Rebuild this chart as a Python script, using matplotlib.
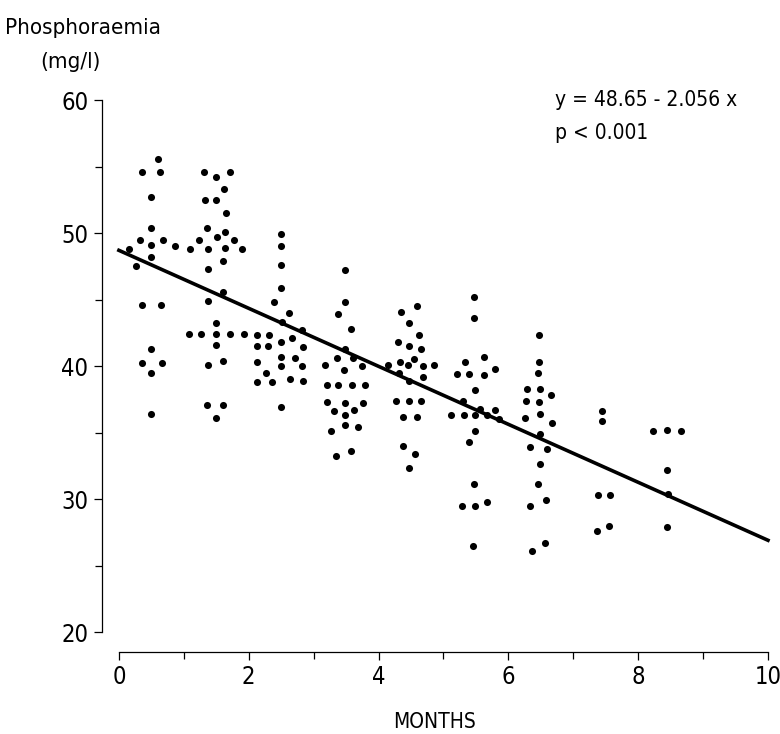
import numpy as np
import matplotlib
matplotlib.use("Agg")
import matplotlib.pyplot as plt
from matplotlib.ticker import MultipleLocator

# values, grouped by month of sampling
m0_x = [0.16, 0.26, 0.32, 0.35, 0.35, 0.36, 0.49, 0.49, 0.50, 0.50, 0.50, 0.50, 0.49,
        0.60, 0.63, 0.65, 0.67, 0.68, 0.87]
m0_y = [48.8, 47.5, 49.5, 44.6, 40.2, 54.6, 52.7, 50.4, 49.1, 48.2, 41.3, 39.5, 36.4,
        55.6, 54.6, 44.6, 40.2, 49.5, 49.0]

m1_x = [1.08, 1.10, 1.23, 1.26, 1.31, 1.32, 1.35, 1.35, 1.37, 1.37, 1.38, 1.38, 1.49,
        1.50, 1.51, 1.49, 1.49, 1.49, 1.49, 1.60, 1.60, 1.61, 1.61, 1.62, 1.63, 1.64,
        1.65, 1.71, 1.71, 1.78, 1.89, 1.93]
m1_y = [42.4, 48.8, 49.5, 42.4, 54.6, 52.5, 50.4, 37.1, 47.3, 40.1, 48.8, 44.9, 54.2,
        52.5, 49.7, 43.2, 42.4, 41.6, 36.1, 47.9, 40.4, 45.6, 37.1, 53.3, 50.1, 48.9,
        51.5, 54.6, 42.4, 49.5, 48.8, 42.4]

m2_x = [2.12, 2.13, 2.13, 2.13, 2.27, 2.30, 2.32, 2.36, 2.39, 2.49, 2.49, 2.49, 2.50,
        2.52, 2.50, 2.50, 2.50, 2.50, 2.62, 2.63, 2.66, 2.72, 2.82, 2.83, 2.82, 2.83]
m2_y = [41.5, 42.3, 40.3, 38.8, 39.5, 41.5, 42.3, 38.8, 44.8, 49.9, 49.0, 47.6, 45.9,
        43.3, 41.8, 40.7, 40.0, 36.9, 44.0, 39.0, 42.1, 40.6, 42.7, 41.4, 40.0, 38.9]

m3_x = [3.18, 3.21, 3.21, 3.27, 3.31, 3.34, 3.36, 3.37, 3.38, 3.47, 3.48, 3.48, 3.48,
        3.48, 3.48, 3.48, 3.57, 3.57, 3.59, 3.61, 3.62, 3.69, 3.74, 3.76, 3.79]
m3_y = [40.1, 38.6, 37.3, 35.1, 36.6, 33.2, 40.6, 43.9, 38.6, 39.7, 47.2, 44.8, 41.3,
        37.2, 36.3, 35.6, 42.8, 33.6, 38.6, 40.6, 36.7, 35.4, 40.0, 37.2, 38.6]

m4_x = [4.14, 4.27, 4.30, 4.32, 4.33, 4.35, 4.37, 4.37, 4.46, 4.47, 4.47, 4.47, 4.47,
        4.47, 4.55, 4.56, 4.59, 4.59, 4.62, 4.66, 4.66, 4.68, 4.68, 4.85]
m4_y = [40.1, 37.4, 41.8, 39.5, 40.3, 44.1, 36.2, 34.0, 40.1, 43.2, 41.5, 38.9, 37.4,
        32.3, 40.5, 33.4, 44.5, 36.2, 42.3, 41.3, 37.4, 40.0, 39.2, 40.1]

m5_x = [5.12, 5.21, 5.28, 5.30, 5.31, 5.33, 5.39, 5.40, 5.46, 5.47, 5.47, 5.47, 5.48,
        5.49, 5.49, 5.49, 5.57, 5.63, 5.63, 5.67, 5.67, 5.79, 5.79, 5.85]
m5_y = [36.3, 39.4, 29.5, 37.4, 36.3, 40.3, 34.3, 39.4, 26.5, 45.2, 43.6, 31.1, 35.1,
        38.2, 36.3, 29.5, 36.8, 40.7, 39.3, 36.3, 29.8, 39.8, 36.7, 36.0]

m6_x = [6.26, 6.27, 6.28, 6.33, 6.34, 6.37, 6.46, 6.46, 6.47, 6.47, 6.47, 6.48, 6.48,
        6.48, 6.48, 6.56, 6.58, 6.59, 6.66, 6.68]
m6_y = [36.1, 37.4, 38.3, 33.9, 29.5, 26.1, 39.5, 31.1, 42.3, 40.3, 37.3, 38.3, 36.4,
        34.9, 32.6, 26.7, 29.9, 33.8, 37.8, 35.7]

m7_x = [7.37, 7.38, 7.45, 7.45, 7.55, 7.57]
m7_y = [27.6, 30.3, 36.6, 35.9, 28.0, 30.3]

m8_x = [8.23, 8.45, 8.66, 8.45, 8.46, 8.45]
m8_y = [35.1, 35.2, 35.1, 32.2, 30.4, 27.9]

# regression line as drawn in the figure
fit_x = [0, 10]
fit_y = [48.7, 26.9]

plt.rcParams["font.family"] = ["DejaVu Sans"]
plt.rcParams["font.stretch"] = "condensed"

fig = plt.figure(figsize=(7.8, 7.34), dpi=100)
ax = fig.add_axes([0.1308, 0.1117, 0.8538, 0.752])

all_x = np.concatenate([m0_x, m1_x, m2_x, m3_x, m4_x, m5_x, m6_x, m7_x, m8_x])
all_y = np.concatenate([m0_y, m1_y, m2_y, m3_y, m4_y, m5_y, m6_y, m7_y, m8_y])

ax.scatter(all_x, all_y, s=26, color="black", linewidths=0, clip_on=False)
ax.plot(fit_x, fit_y, color="black", linewidth=2.6, clip_on=False)

ax.set_xlim(-0.26, 10)
ax.set_ylim(18.5, 60)

for side in ["top", "right"]:
    ax.spines[side].set_visible(False)
ax.spines["bottom"].set_bounds(0, 10)
ax.spines["left"].set_bounds(20, 60)
ax.spines["bottom"].set_linewidth(0.9)
ax.spines["left"].set_linewidth(0.9)

ax.xaxis.set_major_locator(MultipleLocator(2))
ax.xaxis.set_minor_locator(MultipleLocator(1))
ax.yaxis.set_major_locator(MultipleLocator(10))
ax.yaxis.set_minor_locator(MultipleLocator(5))
ax.tick_params(axis="both", which="major", direction="out", length=6, width=0.9,
               labelsize=17, pad=4)
ax.tick_params(axis="both", which="minor", direction="out", length=5, width=0.9)
ax.tick_params(axis="x", which="major", pad=3)

fig.text(0.006, 0.962, "Phosphoraemia", fontsize=16, ha="left", va="center")
fig.text(0.052, 0.915, "(mg/l)", fontsize=16, ha="left", va="center")
fig.text(0.711, 0.864, "y = 48.65 - 2.056 x", fontsize=15, ha="left", va="center")
fig.text(0.711, 0.819, "p < 0.001", fontsize=15, ha="left", va="center")
fig.text(0.557, 0.017, "MONTHS", fontsize=15, ha="center", va="center")

fig.savefig("out.png", dpi=100)
